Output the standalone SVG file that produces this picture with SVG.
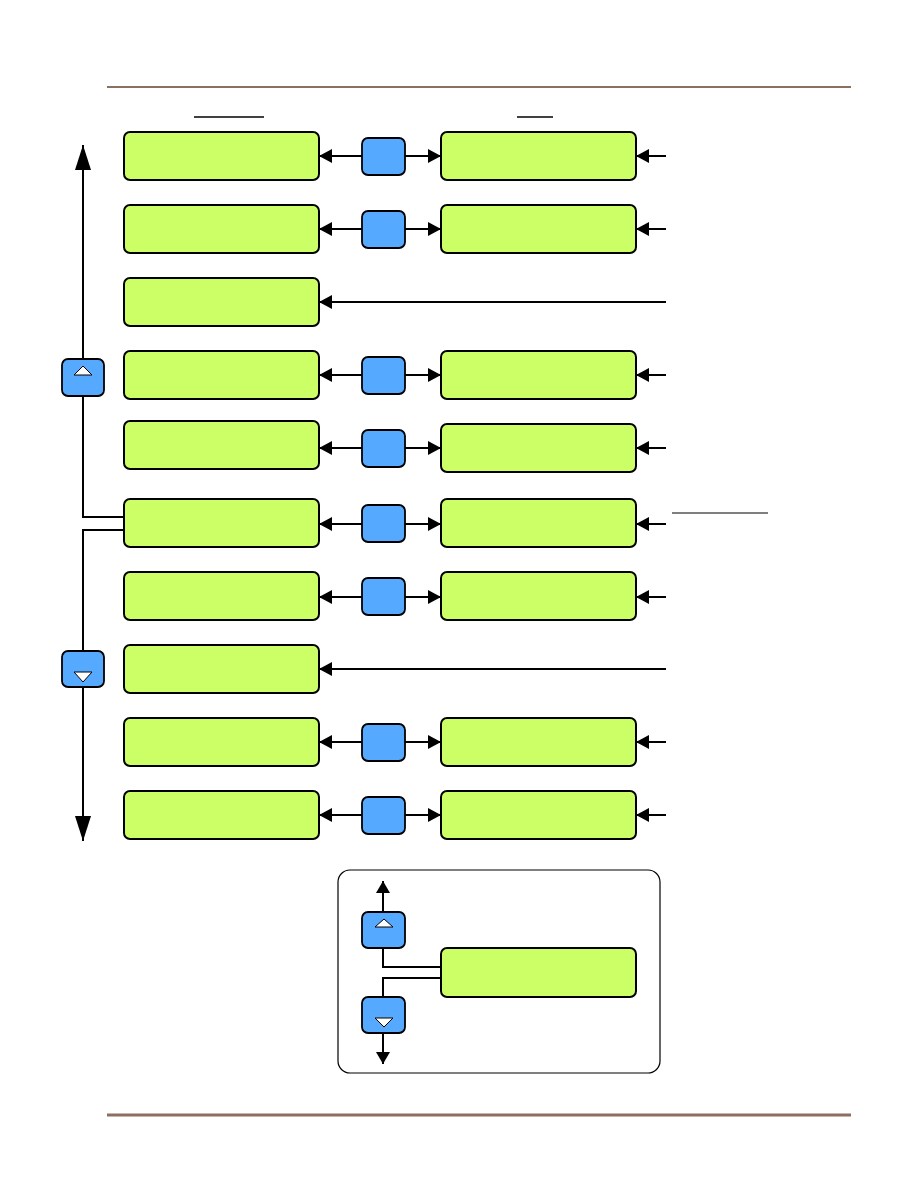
<svg xmlns="http://www.w3.org/2000/svg" width="918" height="1188" viewBox="0 0 918 1188">
<style>
.box{fill:#CCFF66;stroke:#000;stroke-width:2}
.btn{fill:#55AAFF;stroke:#000;stroke-width:1.8}
.tri{fill:#fff;stroke:#000;stroke-width:1}
.ln{fill:none;stroke:#000;stroke-width:2}
.thin{fill:none;stroke:#000;stroke-width:1.5}
.rule{stroke:#8C6E62}
</style>
<defs>
<marker id="ah" viewBox="0 0 13 14" refX="13" refY="7" markerWidth="13" markerHeight="14" orient="auto" markerUnits="userSpaceOnUse"><path d="M0,0 L13,7 L0,14 z" fill="#000"/></marker>
<marker id="ahBig" viewBox="0 0 25 16" refX="25" refY="8" markerWidth="25" markerHeight="16" orient="auto" markerUnits="userSpaceOnUse"><path d="M0,0 L25,8 L0,16 z" fill="#000"/></marker>
<marker id="ahS" viewBox="0 0 12 14" refX="12" refY="7" markerWidth="12" markerHeight="14" orient="auto" markerUnits="userSpaceOnUse"><path d="M0,0 L12,7 L0,14 z" fill="#000"/></marker>
</defs>
<rect width="918" height="1188" fill="#fff"/>
<line class="rule" x1="107" y1="87" x2="851" y2="87" stroke-width="2"/>
<line class="rule" x1="107" y1="1115" x2="851" y2="1115" stroke-width="3"/>
<line x1="194" y1="117" x2="264" y2="117" stroke="#000" stroke-width="1.5"/>
<line x1="517" y1="117" x2="553" y2="117" stroke="#000" stroke-width="1.5"/>
<line x1="672" y1="513" x2="768" y2="513" stroke="#000" stroke-width="1.2"/>

<g id="connectors">
<!-- vertical navigation -->
<path class="ln" d="M124,517 H83 V145" marker-end="url(#ahBig)"/>
<path class="ln" d="M124,530 H83 V841" marker-end="url(#ahBig)"/>
<!-- row connectors -->
<line class="ln" x1="362" y1="156" x2="319" y2="156" marker-end="url(#ah)"/>
<line class="ln" x1="405" y1="156" x2="441" y2="156" marker-end="url(#ah)"/>
<line class="ln" x1="666" y1="156" x2="636" y2="156" marker-end="url(#ah)"/>
<line class="ln" x1="362" y1="229" x2="319" y2="229" marker-end="url(#ah)"/>
<line class="ln" x1="405" y1="229" x2="441" y2="229" marker-end="url(#ah)"/>
<line class="ln" x1="666" y1="229" x2="636" y2="229" marker-end="url(#ah)"/>
<line class="ln" x1="666" y1="302" x2="319" y2="302" marker-end="url(#ah)"/>
<line class="ln" x1="362" y1="375" x2="319" y2="375" marker-end="url(#ah)"/>
<line class="ln" x1="405" y1="375" x2="441" y2="375" marker-end="url(#ah)"/>
<line class="ln" x1="666" y1="375" x2="636" y2="375" marker-end="url(#ah)"/>
<line class="ln" x1="362" y1="448" x2="319" y2="448" marker-end="url(#ah)"/>
<line class="ln" x1="405" y1="448" x2="441" y2="448" marker-end="url(#ah)"/>
<line class="ln" x1="666" y1="448" x2="636" y2="448" marker-end="url(#ah)"/>
<line class="ln" x1="362" y1="524" x2="319" y2="524" marker-end="url(#ah)"/>
<line class="ln" x1="405" y1="524" x2="441" y2="524" marker-end="url(#ah)"/>
<line class="ln" x1="666" y1="524" x2="636" y2="524" marker-end="url(#ah)"/>
<line class="ln" x1="362" y1="597" x2="319" y2="597" marker-end="url(#ah)"/>
<line class="ln" x1="405" y1="597" x2="441" y2="597" marker-end="url(#ah)"/>
<line class="ln" x1="666" y1="597" x2="636" y2="597" marker-end="url(#ah)"/>
<line class="ln" x1="666" y1="669" x2="319" y2="669" marker-end="url(#ah)"/>
<line class="ln" x1="362" y1="742" x2="319" y2="742" marker-end="url(#ah)"/>
<line class="ln" x1="405" y1="742" x2="441" y2="742" marker-end="url(#ah)"/>
<line class="ln" x1="666" y1="742" x2="636" y2="742" marker-end="url(#ah)"/>
<line class="ln" x1="362" y1="815" x2="319" y2="815" marker-end="url(#ah)"/>
<line class="ln" x1="405" y1="815" x2="441" y2="815" marker-end="url(#ah)"/>
<line class="ln" x1="666" y1="815" x2="636" y2="815" marker-end="url(#ah)"/>
</g>

<g id="left-boxes">
<g id="L1"><rect class="box" x="124" y="132" width="195" height="48" rx="6"/></g>
<g id="L2"><rect class="box" x="124" y="205" width="195" height="48" rx="6"/></g>
<g id="L3"><rect class="box" x="124" y="278" width="195" height="48" rx="6"/></g>
<g id="L4"><rect class="box" x="124" y="351" width="195" height="48" rx="6"/></g>
<g id="L5"><rect class="box" x="124" y="421" width="195" height="48" rx="6"/></g>
<g id="L6"><rect class="box" x="124" y="499" width="195" height="48" rx="6"/></g>
<g id="L7"><rect class="box" x="124" y="572" width="195" height="48" rx="6"/></g>
<g id="L8"><rect class="box" x="124" y="645" width="195" height="48" rx="6"/></g>
<g id="L9"><rect class="box" x="124" y="718" width="195" height="48" rx="6"/></g>
<g id="L10"><rect class="box" x="124" y="791" width="195" height="48" rx="6"/></g>
</g>

<g id="buttons">
<g id="B1"><rect class="btn" x="362" y="138" width="43" height="37" rx="6"/></g>
<g id="B2"><rect class="btn" x="362" y="211" width="43" height="37" rx="6"/></g>
<g id="B4"><rect class="btn" x="362" y="357" width="43" height="37" rx="6"/></g>
<g id="B5"><rect class="btn" x="362" y="430" width="43" height="37" rx="6"/></g>
<g id="B6"><rect class="btn" x="362" y="505" width="43" height="37" rx="6"/></g>
<g id="B7"><rect class="btn" x="362" y="578" width="43" height="37" rx="6"/></g>
<g id="B9"><rect class="btn" x="362" y="724" width="43" height="37" rx="6"/></g>
<g id="B10"><rect class="btn" x="362" y="797" width="43" height="37" rx="6"/></g>
</g>

<g id="right-boxes">
<g id="R1"><rect class="box" x="441" y="132" width="195" height="48" rx="6"/></g>
<g id="R2"><rect class="box" x="441" y="205" width="195" height="48" rx="6"/></g>
<g id="R4"><rect class="box" x="441" y="351" width="195" height="48" rx="6"/></g>
<g id="R5"><rect class="box" x="441" y="424" width="195" height="48" rx="6"/></g>
<g id="R6"><rect class="box" x="441" y="499" width="195" height="48" rx="6"/></g>
<g id="R7"><rect class="box" x="441" y="572" width="195" height="48" rx="6"/></g>
<g id="R9"><rect class="box" x="441" y="718" width="195" height="48" rx="6"/></g>
<g id="R10"><rect class="box" x="441" y="791" width="195" height="48" rx="6"/></g>
</g>

<g id="up-button"><rect class="btn" x="62" y="359" width="42" height="37" rx="6"/><polygon class="tri" points="74,375 83,366 92,375"/></g>
<g id="down-button"><rect class="btn" x="62" y="651" width="42" height="36" rx="6"/><polygon class="tri" points="74,672 92,672 83,682"/></g>

<g id="legend">
<rect x="338" y="870" width="322" height="203" rx="12" fill="#fff" stroke="#000" stroke-width="1.2"/>
<g id="legend-connectors">
<path class="ln" d="M441,967 H383 V881" marker-end="url(#ahS)"/>
<path class="ln" d="M441,978 H383 V1064" marker-end="url(#ahS)"/>
</g>
<g id="legend-up"><rect class="btn" x="362" y="912" width="43" height="36" rx="6"/><polygon class="tri" points="375,927 384,919 393,927"/></g>
<g id="legend-down"><rect class="btn" x="362" y="997" width="43" height="36" rx="6"/><polygon class="tri" points="375,1018 393,1018 384,1027"/></g>
<g id="legend-box"><rect class="box" x="441" y="948" width="195" height="49" rx="6"/></g>
</g>
</svg>
